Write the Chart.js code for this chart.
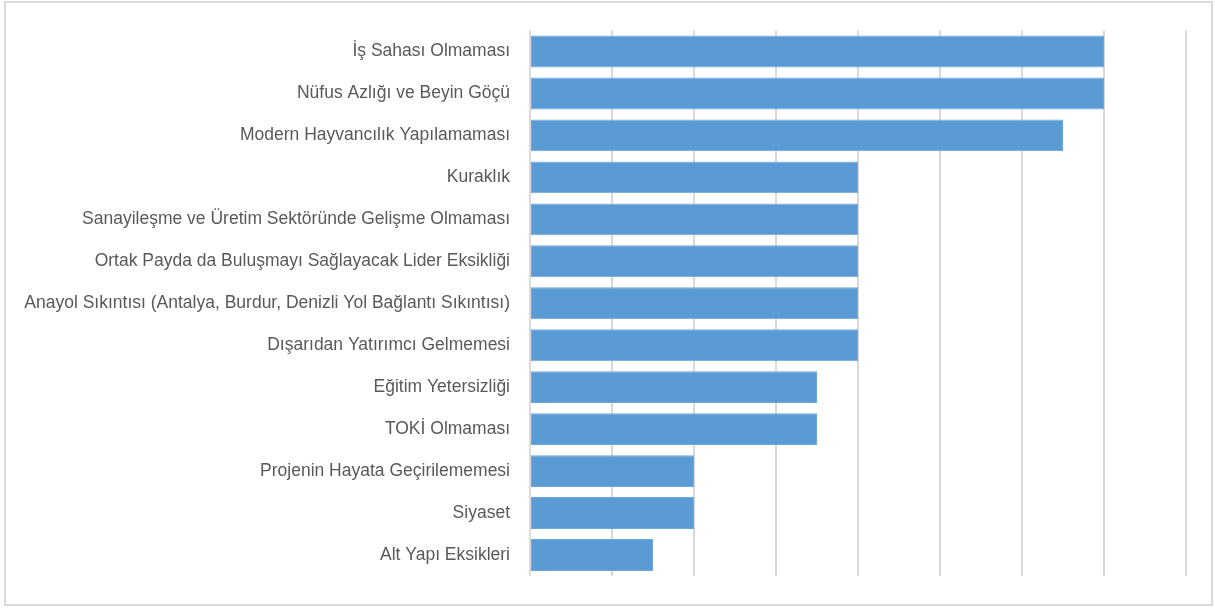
<!DOCTYPE html>
<html lang="tr">
<head>
<meta charset="utf-8">
<script src="https://cdn.jsdelivr.net/npm/chart.js@4.4.1/dist/chart.umd.min.js"></script>
<style>
  html, body { margin: 0; padding: 0; background: #fff; }
  #wrap { position: relative; width: 1215px; height: 608px; }
  #frame {
    position: absolute; left: 4px; top: 1px; width: 1205px; height: 601px;
    border: 2px solid #d9d9d9; pointer-events: none;
  }
</style>
</head>
<body>
<div id="wrap">
  <canvas id="chart" width="1215" height="608"></canvas>
  <div id="frame"></div>
</div>
<script>
// sorunlar ve kaç kez dile getirildikleri
const problems = [
  'İş Sahası Olmaması',
  'Nüfus Azlığı ve Beyin Göçü',
  'Modern Hayvancılık Yapılamaması',
  'Kuraklık',
  'Sanayileşme ve Üretim Sektöründe Gelişme Olmaması',
  'Ortak Payda da Buluşmayı Sağlayacak Lider Eksikliği',
  'Anayol Sıkıntısı (Antalya, Burdur, Denizli Yol Bağlantı Sıkıntısı)',
  'Dışarıdan Yatırımcı Gelmemesi',
  'Eğitim Yetersizliği',
  'TOKİ Olmaması',
  'Projenin Hayata Geçirilememesi',
  'Siyaset',
  'Alt Yapı Eksikleri'
];
const counts = [14, 14, 13, 8, 8, 8, 8, 8, 7, 7, 4, 4, 3];

const axisMax = 16;
const axisStep = 2;

new Chart(document.getElementById('chart'), {
  type: 'bar',
  data: {
    labels: problems,
    datasets: [{
      data: counts,
      backgroundColor: '#5b9bd5',
      borderColor: '#6ea7da',
      borderWidth: 1,
      borderSkipped: false,
      categoryPercentage: 1,
      barPercentage: 0.76
    }]
  },
  options: {
    indexAxis: 'y',
    responsive: false,
    animation: false,
    layout: { padding: { left: 0, right: 29, top: 30, bottom: 32 } },
    plugins: {
      legend: { display: false },
      tooltip: { enabled: false }
    },
    scales: {
      x: {
        min: 0,
        max: axisMax,
        ticks: { display: false, stepSize: axisStep },
        border: { display: false },
        grid: { color: '#d9d9d9', lineWidth: 2, drawTicks: false },
        afterFit: (scale) => { scale.height = 0; }
      },
      y: {
        grid: { display: false, drawTicks: false },
        border: { display: false },
        ticks: {
          color: '#595959',
          padding: 20,
          font: { family: '"Liberation Sans Narrow", "Arial Narrow", "Liberation Sans", sans-serif', size: 17.5 }
        },
        afterFit: (scale) => { scale.width = 530; }
      }
    }
  }
});
</script>
</body>
</html>
